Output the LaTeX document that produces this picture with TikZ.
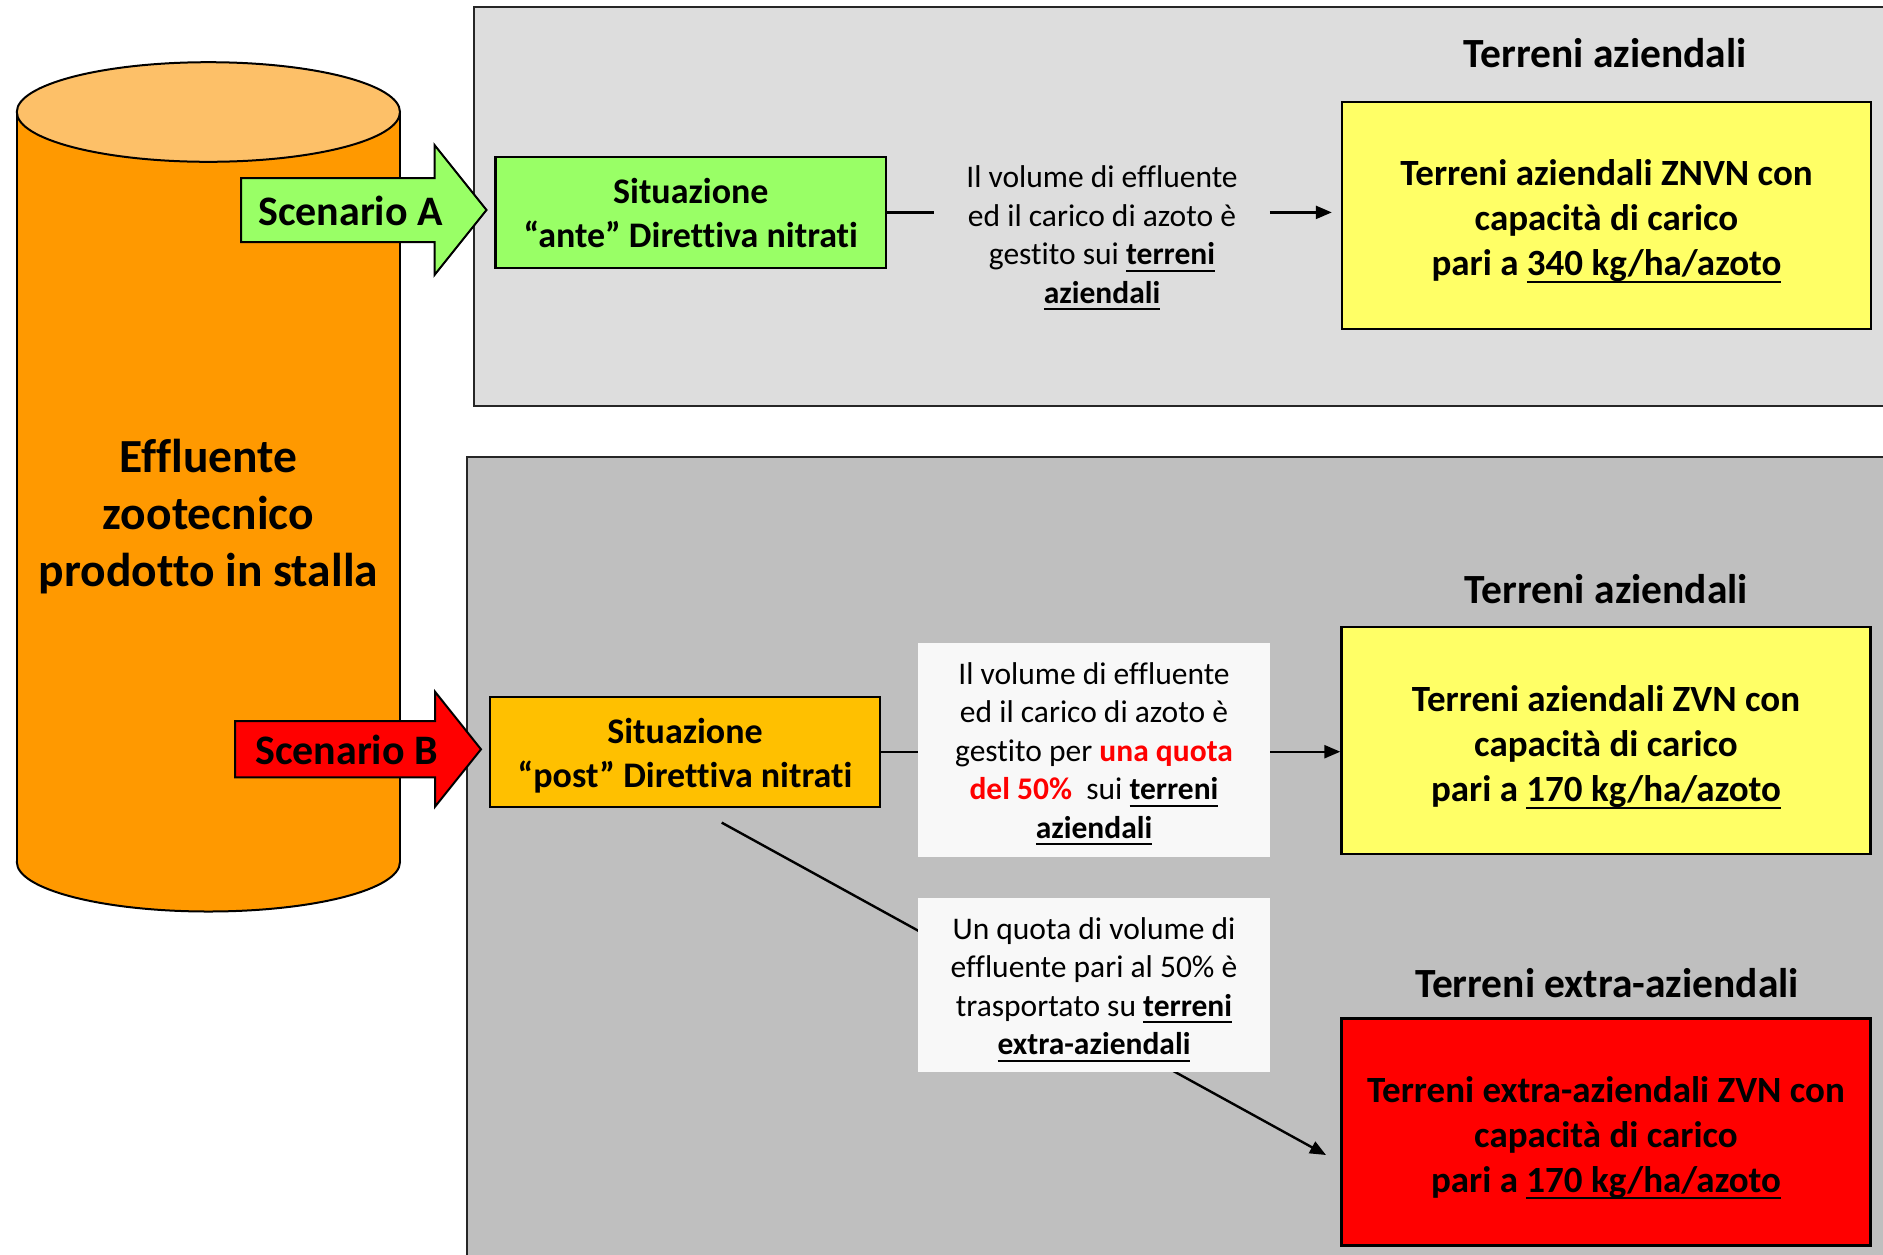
\documentclass[tikz,border=0pt]{standalone}
\usepackage{fontspec}
\setmainfont{Carlito}[Ligatures=NoCommon]
\newcommand{\ulbar}[1]{\setbox0\hbox{#1}\rlap{\rule[-7pt]{\wd0}{2pt}}\box0}
\newcommand{\lift}[1]{\rule{0pt}{#1}}
\usetikzlibrary{arrows.meta}
\definecolor{cylBody}{RGB}{255,153,0}
\definecolor{cylTop}{RGB}{253,192,104}
\definecolor{panelA}{RGB}{221,221,221}
\definecolor{panelB}{RGB}{191,191,191}
\definecolor{greenA}{RGB}{153,255,102}
\definecolor{orangeB}{RGB}{255,192,0}
\definecolor{yellowC}{RGB}{255,255,102}
\definecolor{redC}{RGB}{255,0,0}
\definecolor{noteW}{RGB}{248,248,248}
\tikzset{
  panel/.style={draw=black!85, line width=2pt},
  bigarrow/.style={draw=black, line width=2pt, line join=miter},
  scen/.style={font=\bfseries\fontsize{42}{50}\selectfont, inner sep=0pt},
  sitbox/.style={draw=black, line width=2.4pt, inner sep=0pt, align=center,
     font=\bfseries\fontsize{36}{44.3}\selectfont},
  landbox/.style={draw=black, line width=2.4pt, inner sep=0pt, align=center,
     minimum width=529pt, minimum height=227pt,
     font=\bfseries\fontsize{37}{45}\selectfont},
  title/.style={font=\bfseries\fontsize{41.5}{49}\selectfont, inner sep=0pt},
  note/.style={inner sep=0pt, align=center, font=\fontsize{31.5}{38.5}\selectfont},
  conn/.style={draw=black, line width=2.4pt},
  tip/.style={-{Triangle[length=16pt,width=13pt]}}
}
\begin{document}
\begin{tikzpicture}[x=1pt,y=-1pt]
\clip (0,0) rectangle (1883,1254);
\fill[white] (0,0) rectangle (1883,1254);

% panels
\draw[panel, fill=panelA] (474,7) rectangle (1910,406);
\draw[panel, fill=panelB] (467,457) rectangle (1910,1280);

% cylinder
\filldraw[fill=cylBody, draw=black, line width=2pt] (208.4,862) ellipse [x radius=191.6, y radius=49.5];
\fill[cylBody] (16.8,112) rectangle (400,862);
\draw[line width=2pt] (16.8,112) -- (16.8,862) (400,112) -- (400,862);
\filldraw[fill=cylTop, draw=black, line width=2pt] (208.4,112) ellipse [x radius=191.6, y radius=49.8];
\node[align=center, font=\bfseries\fontsize{47.5}{57}\selectfont] (eff) at (208.5,516.5)
  {Effluente\\zootecnico\\prodotto in stalla};

% scenario arrows
\draw[bigarrow, fill=greenA] (241,178) -- (434.5,178) -- (434.5,145) -- (486.5,210)
  -- (434.5,275) -- (434.5,242) -- (241,242) -- cycle;
\node[scen] (scA) at (350.5,211) {Scenario A};
\draw[bigarrow, fill=redC] (235,721) -- (435,721) -- (435,691.7) -- (481,749.3)
  -- (435,806.7) -- (435,777.3) -- (235,777.3) -- cycle;
\node[scen] (scB) at (346.5,750) {Scenario B};

% top section
\node[sitbox, fill=greenA, minimum width=390.4pt, minimum height=110.7pt] (ante) at (690.8,212.4)
  {\lift{27pt}Situazione\\“ante” Direttiva nitrati};
\node[title] (tA) at (1605,53) {Terreni aziendali};
\node[landbox, fill=yellowC] (yA) at (1606.5,215.5)
  {\lift{37pt}Terreni aziendali ZNVN con\\capacità di carico\\pari a \ulbar{340 kg/ha/azoto}};
\node[note, inner xsep=32pt] (mA) at (1102,238)
  {Il volume di effluente\\ed il carico di azoto è\\gestito sui \ulbar{\textbf{terreni}}\\\ulbar{\textbf{aziendali}}};
\draw[conn] (ante.east) -- (ante.east -| mA.west);
\draw[conn, tip, shorten >=9pt] (ante.east -| mA.east) -- (ante.east -| yA.west);

% bottom section
\node[sitbox, fill=orangeB, minimum width=390pt, minimum height=110pt] (post) at (685,751.7)
  {\lift{33pt}Situazione\\“post” Direttiva nitrati};
\node[title] (tB) at (1606.5,589) {Terreni aziendali};
\node[landbox, fill=yellowC] (yB) at (1606,740.5)
  {\lift{39pt}Terreni aziendali ZVN con\\capacità di carico\\pari a \ulbar{170 kg/ha/azoto}};
\node[title] (tC) at (1607,983) {Terreni extra-aziendali};
\node[landbox, fill=redC] (rC) at (1606,1132)
  {\lift{37pt}Terreni extra-aziendali ZVN con\\capacità di carico\\pari a \ulbar{170 kg/ha/azoto}};

\draw[conn, tip] (post.east) -- (post.east -| yB.west);
\coordinate (d1) at (721.7,822.6);
\coordinate (d2) at (1326,1155);
\draw[conn, tip] (d1) -- (d2);

\node[note, fill=noteW, minimum width=352.5pt, minimum height=214pt] (mB) at (1094,749.7)
  {\lift{30pt}Il volume di effluente\\ed il carico di azoto è\\gestito per \textbf{\color{redC}una quota}\\\textbf{\color{redC}del 50\%}\ \ sui \ulbar{\textbf{terreni}}\\\ulbar{\textbf{aziendali}}};
\node[note, fill=noteW, minimum width=352.5pt, minimum height=173.5pt] (mC) at (1094,985)
  {\lift{31pt}Un quota di volume di\\effluente pari al 50\% è\\trasportato su \ulbar{\textbf{terreni}}\\\ulbar{\textbf{extra-aziendali}}};
\end{tikzpicture}
\end{document}
